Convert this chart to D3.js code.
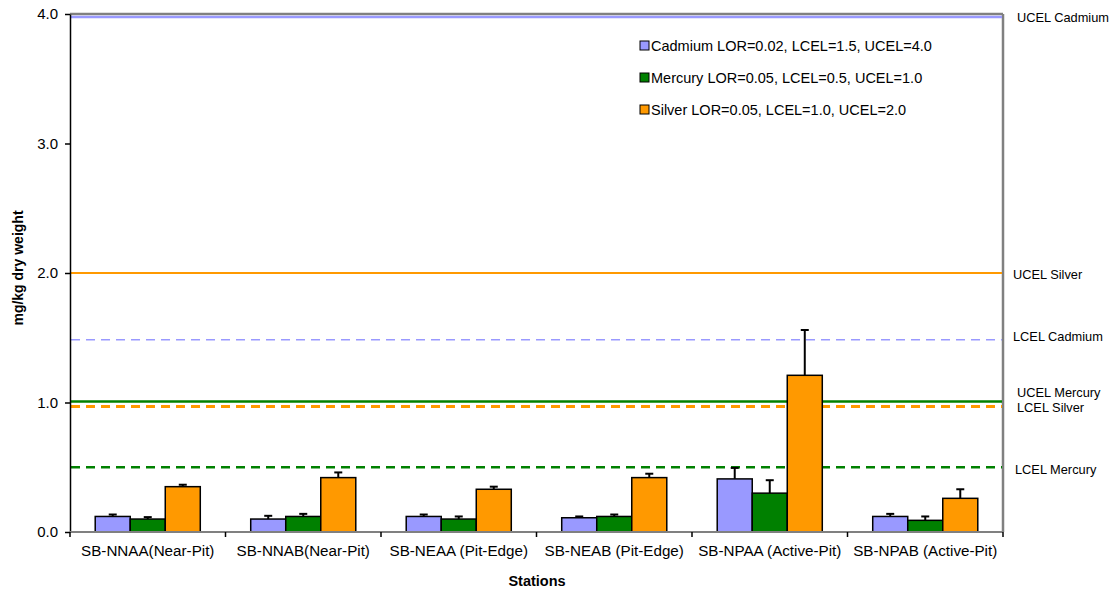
<!DOCTYPE html>
<html>
<head>
<meta charset="utf-8">
<script src="https://cdn.jsdelivr.net/npm/d3@7"></script>
<style>
  html, body { margin: 0; padding: 0; background: #fff; }
  svg { display: block; font-family: "Liberation Sans", Arial, sans-serif; }
</style>
</head>
<body>
<svg id="chart" width="1115" height="592"></svg>
<script>
// Stations and metal series
const stations = [
  "SB-NNAA(Near-Pit)", "SB-NNAB(Near-Pit)", "SB-NEAA (Pit-Edge)",
  "SB-NEAB (Pit-Edge)", "SB-NPAA (Active-Pit)", "SB-NPAB (Active-Pit)"
];
const metals = ["Cadmium", "Mercury", "Silver"];
const legendLabels = [
  "Cadmium LOR=0.02, LCEL=1.5, UCEL=4.0",
  "Mercury LOR=0.05, LCEL=0.5, UCEL=1.0",
  "Silver LOR=0.05, LCEL=1.0, UCEL=2.0"
];
// Mean concentrations (mg/kg dry weight) per station
const cadmium = [0.12, 0.10, 0.12, 0.11, 0.41, 0.12];
const mercury = [0.10, 0.12, 0.10, 0.12, 0.30, 0.09];
const silver  = [0.35, 0.42, 0.33, 0.42, 1.21, 0.26];
// Upper error (standard error)
const cadmiumErr = [0.015, 0.025, 0.015, 0.01, 0.085, 0.02];
const mercuryErr = [0.015, 0.02, 0.02, 0.015, 0.10, 0.03];
const silverErr  = [0.015, 0.04, 0.02, 0.03, 0.35, 0.07];
// Sediment guideline levels
const guideNames  = ["UCEL Cadmium", "UCEL Silver", "LCEL Cadmium", "UCEL Mercury", "LCEL Silver", "LCEL Mercury"];
const guideValues = [4.0, 2.0, 1.5, 1.0, 1.0, 0.5];
const yTicks = [0, 1, 2, 3, 4];

const colors = { Cadmium: "#9999FF", Mercury: "#008000", Silver: "#FF9900" };
// Line styling for each guideline (metal colour, dash, width, pixel nudge, label position)
const guideStyle = {
  "UCEL Cadmium": { metal: "Cadmium", dash: null, w: 2.5, nudge: 3, lx: 1017, ly: 22 },
  "UCEL Silver":  { metal: "Silver",  dash: null, w: 2, nudge: 0, lx: 1013, ly: 279 },
  "LCEL Cadmium": { metal: "Cadmium", dash: "9,6", w: 1.5, nudge: 2, lx: 1013, ly: 341 },
  "UCEL Mercury": { metal: "Mercury", dash: null, w: 2.5, nudge: -1, lx: 1017, ly: 397 },
  "LCEL Silver":  { metal: "Silver",  dash: "9,6", w: 3, nudge: 4, lx: 1017, ly: 412 },
  "LCEL Mercury": { metal: "Mercury", dash: "9,6", w: 2.5, nudge: 0, lx: 1015, ly: 474 }
};

const svg = d3.select("#chart");
const m = { left: 70, right: 1003, top: 14, bottom: 532 };

const x = d3.scaleBand().domain(stations).range([m.left, m.right]).padding(0);
const xm = d3.scaleBand().domain(metals).range([0, x.bandwidth()]).paddingInner(0).paddingOuter(0.72);
const y = d3.scaleLinear().domain([0, 4]).range([m.bottom, m.top]);

const series = {
  Cadmium: { v: cadmium, e: cadmiumErr },
  Mercury: { v: mercury, e: mercuryErr },
  Silver:  { v: silver,  e: silverErr }
};

// Plot frame: grey top and right edges
svg.append("line").attr("x1", m.left).attr("x2", m.right).attr("y1", m.top).attr("y2", m.top)
  .attr("stroke", "#808080").attr("stroke-width", 2.5);
svg.append("line").attr("x1", m.right).attr("x2", m.right).attr("y1", m.top).attr("y2", m.bottom)
  .attr("stroke", "#808080").attr("stroke-width", 2.5);

// Guideline lines
guideNames.forEach((name, i) => {
  const s = guideStyle[name];
  const yy = y(guideValues[i]) + s.nudge;
  svg.append("line")
    .attr("x1", m.left + 1).attr("x2", m.right - 1)
    .attr("y1", yy).attr("y2", yy)
    .attr("stroke", colors[s.metal])
    .attr("stroke-width", s.w)
    .attr("stroke-dasharray", s.dash);
  svg.append("text")
    .attr("x", s.lx).attr("y", s.ly)
    .attr("font-size", 12.8)
    .attr("fill", "#000")
    .text(name);
});

// Bars and error bars
const groups = svg.append("g").selectAll("g").data(stations).join("g")
  .attr("transform", d => `translate(${x(d)},0)`);

metals.forEach(metal => {
  const s = series[metal];
  groups.append("line")
    .attr("x1", (d, i) => xm(metal) + xm.bandwidth() / 2)
    .attr("x2", (d, i) => xm(metal) + xm.bandwidth() / 2)
    .attr("y1", (d, i) => y(s.v[i]))
    .attr("y2", (d, i) => y(s.v[i] + s.e[i]))
    .attr("stroke", "#000").attr("stroke-width", 2);
  groups.append("line")
    .attr("x1", (d, i) => xm(metal) + xm.bandwidth() / 2 - 4)
    .attr("x2", (d, i) => xm(metal) + xm.bandwidth() / 2 + 4)
    .attr("y1", (d, i) => y(s.v[i] + s.e[i]))
    .attr("y2", (d, i) => y(s.v[i] + s.e[i]))
    .attr("stroke", "#000").attr("stroke-width", 2);
  groups.append("rect")
    .attr("x", xm(metal))
    .attr("width", xm.bandwidth())
    .attr("y", (d, i) => y(s.v[i]))
    .attr("height", (d, i) => y(0) - y(s.v[i]))
    .attr("fill", colors[metal])
    .attr("stroke", "#000").attr("stroke-width", 1.5);
});

// Y axis
const yAxis = svg.append("g").attr("transform", `translate(${m.left},0)`)
  .call(d3.axisLeft(y).tickValues(yTicks).tickFormat(d3.format(".1f")).tickSize(5).tickSizeOuter(0));
yAxis.select(".domain").attr("stroke", "#000").attr("stroke-width", 1.5);
yAxis.selectAll(".tick line").attr("stroke", "#000").attr("stroke-width", 1.5);
yAxis.selectAll(".tick text").attr("font-size", 15).attr("font-family", "Liberation Sans, Arial, sans-serif")
  .attr("fill", "#000").attr("x", -12);

// X axis with ticks on category boundaries
svg.append("line").attr("x1", m.left).attr("x2", m.right).attr("y1", m.bottom).attr("y2", m.bottom)
  .attr("stroke", "#808080").attr("stroke-width", 2);
const boundaries = stations.map(d => x(d)).concat([m.right]);
svg.append("g").selectAll("line").data(boundaries).join("line")
  .attr("x1", d => d).attr("x2", d => d)
  .attr("y1", m.bottom).attr("y2", m.bottom + 5)
  .attr("stroke", "#000").attr("stroke-width", 1.5);
svg.append("g").selectAll("text").data(stations).join("text")
  .attr("x", d => x(d) + x.bandwidth() / 2)
  .attr("y", 556)
  .attr("text-anchor", "middle")
  .attr("font-size", 15.2)
  .attr("fill", "#000")
  .text(d => d);

// Axis titles
svg.append("text").attr("x", 537).attr("y", 586).attr("text-anchor", "middle")
  .attr("font-size", 14.5).attr("font-weight", "bold").text("Stations");
svg.append("text").attr("transform", "translate(23,268) rotate(-90)").attr("text-anchor", "middle")
  .attr("font-size", 14).attr("font-weight", "bold").text("mg/kg dry weight");

// Legend
const legend = svg.append("g").selectAll("g").data(metals).join("g")
  .attr("transform", (d, i) => `translate(640,${41 + i * 32})`);
legend.append("rect").attr("width", 9).attr("height", 9)
  .attr("fill", d => colors[d]).attr("stroke", "#000").attr("stroke-width", 1);
legend.append("text").attr("x", 11).attr("y", 10)
  .attr("font-size", 14.5).attr("fill", "#000")
  .text((d, i) => legendLabels[i]);
</script>
</body>
</html>
